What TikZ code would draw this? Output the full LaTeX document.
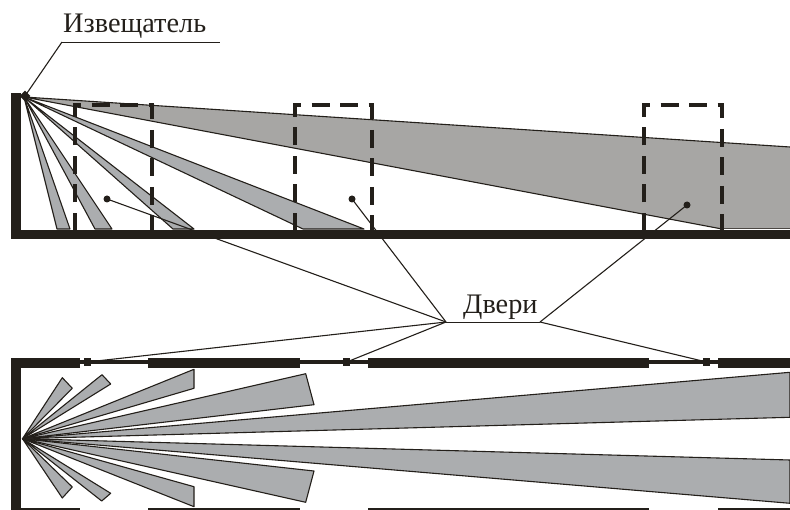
\documentclass[tikz,border=0pt]{standalone}
\usepackage{fontspec}
\usetikzlibrary{shapes.geometric}
\setmainfont{Liberation Serif}
\definecolor{ink}{HTML}{231F1A}
\definecolor{beamgray}{HTML}{ABADAF}
\definecolor{biggray}{HTML}{A7A6A4}
\tikzset{
  beam/.style={draw=ink,fill=beamgray,line width=1.1pt,line join=round},
  bigbeam/.style={draw=ink,fill=biggray,line width=1.1pt,line join=round},
  wall/.style={fill=ink,draw=none},
  doorbox/.style={draw=ink,line width=3.9pt,dash pattern=on 18pt off 10.5pt,dash phase=1pt},
  leader/.style={draw=ink,line width=1.1pt},
  pin/.style={circle,fill=ink,draw=none,inner sep=0pt,minimum size=7pt},
  latch/.style={rectangle,fill=ink,draw=none,inner sep=0pt,minimum width=6.5pt,minimum height=8pt},
  lbl/.style={text=ink,inner sep=0pt,font=\fontsize{28.3}{30}\selectfont,anchor=base west}
}
\begin{document}
\begin{tikzpicture}[x=1pt,y=-1pt]
\useasboundingbox (0,0) rectangle (790,510);
% named anchors
\coordinate (apexT) at (24,97);
\coordinate (apexB) at (22.5,438.7);
\coordinate (hubL) at (446,322);
\coordinate (hubR) at (540,322);
\coordinate (capL) at (62,42);
\coordinate (capR) at (220,42);
% upper view beams
\fill[biggray] (apexT) -- (790,147) -- (790,229) -- (722,229) -- cycle;
\draw[bigbeam,fill=none] (722,229) -- (apexT) -- (790,147);
\draw[ink!70!biggray,line width=1.1pt] (722,228.5) -- (790,228.5);
\draw[beam] (apexT) -- (57,229) -- (70,229) -- cycle;
\draw[beam] (apexT) -- (95,229) -- (112,229) -- cycle;
\draw[beam] (apexT) -- (173,229) -- (194,229) -- cycle;
\draw[beam] (apexT) -- (303,229) -- (364,229) -- cycle;
% pins and latches
\node[pin] (pinA) at (107,199) {};
\node[pin] (pinB) at (352,199) {};
\node[pin] (pinC) at (687,205) {};
\node[latch] (latchA) at (87.5,362) {};
\node[latch] (latchB) at (346.7,362) {};
\node[latch] (latchC) at (706.5,362) {};
\node[diamond,fill=ink,inner sep=0pt,minimum size=11pt] (sensor) at (25,96) {};
% leaders
\draw[leader] (pinA.center) -- (hubL);
\draw[leader] (pinB.center) -- (hubL);
\draw[leader] (pinC.center) -- (hubR);
\draw[leader,line width=0.9pt] (hubL) -- (hubR);
\draw[leader] (hubL) -- (latchA.center);
\draw[leader] (hubL) -- (latchB.center);
\draw[leader] (hubR) -- (latchC.center);
\draw[leader] (sensor.center) -- (capL);
\draw[leader,line width=0.9pt] (capL) -- (capR);
% door outlines, upper view
\foreach \xa/\xb in {75/152,295/372,644/722}
  \draw[doorbox] (\xa,230) -- (\xa,105) -- (\xb,105) -- (\xb,230);
% upper walls
\fill[wall] (11,93) rectangle (21,239);
\fill[wall] (11,230) rectangle (790,239);
% lower view beams
\draw[beam] (apexB) -- (62.3,377.7) -- (72.3,388.3) -- cycle;
\draw[beam] (apexB) -- (102,374.7) -- (110.7,384) -- cycle;
\draw[beam] (apexB) -- (194,369.3) -- (194,388.3) -- cycle;
\draw[beam] (apexB) -- (305.7,373.7) -- (314,404.7) -- cycle;
\draw[beam] (apexB) -- (790,372.3) -- (790,417.3) -- cycle;
\draw[beam] (apexB) -- (790,460) -- (790,503.3) -- cycle;
\draw[beam] (apexB) -- (314,471) -- (305.7,502.3) -- cycle;
\draw[beam] (apexB) -- (194,486.7) -- (194,506.7) -- cycle;
\draw[beam] (apexB) -- (110.7,493.3) -- (101.7,501) -- cycle;
\draw[beam] (apexB) -- (72.3,487) -- (62.3,498) -- cycle;
% lower walls
\fill[wall] (11,358) rectangle (21,510);
\fill[wall] (11,358) rectangle (80,368);
\fill[wall] (148,358) rectangle (300,368);
\fill[wall] (368,358) rectangle (649,368);
\fill[wall] (717.5,358) rectangle (790,368);
\fill[wall] (80,360.2) rectangle (148,363.8);
\fill[wall] (300,360.2) rectangle (368,363.8);
\fill[wall] (649,360.2) rectangle (717.5,363.8);
\fill[wall] (11,508) rectangle (80,510);
\fill[wall] (148,508) rectangle (300,510);
\fill[wall] (368,508) rectangle (649,510);
\fill[wall] (717.5,508) rectangle (790,510);
% labels
\node[lbl] (sensorlabel) at (63,33) {Извещатель};
\node[lbl] (doorlabel) at (463,314) {Двери};
\end{tikzpicture}
\end{document}
